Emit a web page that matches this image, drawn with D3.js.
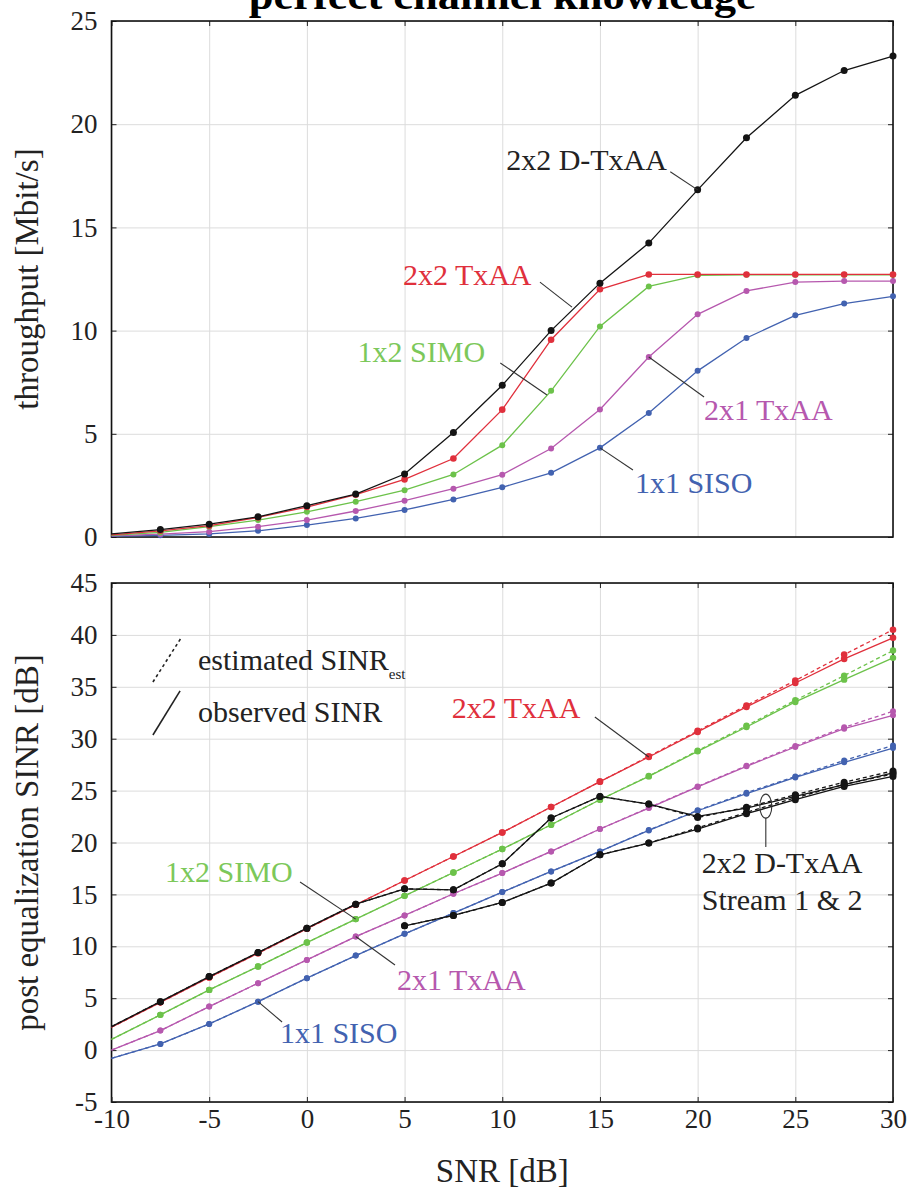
<!DOCTYPE html>
<html>
<head>
<meta charset="utf-8">
<script src="https://cdn.jsdelivr.net/npm/d3@7"></script>
<style>
  body { margin: 0; background: #fff; }
  svg { display: block; font-family: "Liberation Serif", serif; }
  .grid line { stroke: #dcdcdc; stroke-width: 1; }
  .grid path { display: none; }
  .axis path { display: none; }
  .axis line { stroke: #222; stroke-width: 1; }
  .axis text { font-size: 27px; fill: #222; font-family: "Liberation Serif", serif; }
</style>
</head>
<body>
<svg id="chart" width="910" height="1193"></svg>
<script>
// SNR points [dB]
const snr = [-10, -7.5, -5, -2.5, 0, 2.5, 5, 7.5, 10, 12.5, 15, 17.5, 20, 22.5, 25, 27.5, 30];
const xTicks = [-10, -5, 0, 5, 10, 15, 20, 25, 30];
const yTicksTop = [0, 5, 10, 15, 20, 25];
const yTicksBot = [-5, 0, 5, 10, 15, 20, 25, 30, 35, 40, 45];

// throughput [Mbit/s]
const tputDTxAA = [0.15, 0.36, 0.62, 0.98, 1.52, 2.08, 3.05, 5.06, 7.35, 10.0, 12.3, 14.24, 16.82, 19.34, 21.4, 22.6, 23.3];
const tputTxAA = [0.1, 0.3, 0.55, 0.95, 1.45, 2.05, 2.79, 3.8, 6.17, 9.56, 12.0, 12.72, 12.72, 12.72, 12.72, 12.72, 12.72];
const tputSIMO = [0.08, 0.22, 0.5, 0.82, 1.22, 1.71, 2.27, 3.03, 4.45, 7.08, 10.2, 12.14, 12.68, 12.7, 12.7, 12.7, 12.7];
const tputTxAA21 = [0.05, 0.14, 0.26, 0.5, 0.82, 1.26, 1.76, 2.34, 3.02, 4.29, 6.18, 8.72, 10.79, 11.92, 12.35, 12.4, 12.4];
const tputSISO = [0.03, 0.08, 0.15, 0.3, 0.58, 0.9, 1.31, 1.82, 2.41, 3.11, 4.32, 6.01, 8.05, 9.64, 10.74, 11.31, 11.66];

// post equalization SINR [dB], observed and estimated
const sinrDTxAA1Obs = [2.26, 4.67, 7.08, 9.4, 11.75, 14.06, 15.54, 15.44, 17.95, 22.36, 24.44, 23.7, 22.51, 23.32, 24.44, 25.57, 26.7];
const sinrDTxAA1Est = [2.26, 4.67, 7.08, 9.4, 11.75, 14.06, 15.54, 15.44, 17.95, 22.36, 24.44, 23.7, 22.4, 23.4, 24.6, 25.8, 26.9];
const sinrDTxAA2Obs = [null, null, null, null, null, null, 11.97, 12.97, 14.22, 16.09, 18.82, 19.95, 21.3, 22.77, 24.12, 25.4, 26.37];
const sinrDTxAA2Est = [null, null, null, null, null, null, 11.97, 12.97, 14.22, 16.09, 18.82, 19.95, 21.4, 22.9, 24.3, 25.6, 26.6];
const sinrTxAAObs = [2.2, 4.6, 7.0, 9.33, 11.7, 14.0, 16.34, 18.65, 20.97, 23.42, 25.86, 28.24, 30.65, 33.06, 35.37, 37.69, 39.72];
const sinrTxAAEst = [2.2, 4.6, 7.0, 9.33, 11.7, 14.0, 16.34, 18.65, 20.97, 23.42, 25.86, 28.3, 30.75, 33.2, 35.6, 38.1, 40.5];
const sinrSIMOObs = [1.04, 3.39, 5.8, 8.05, 10.36, 12.62, 14.86, 17.11, 19.37, 21.71, 24.12, 26.37, 28.78, 31.13, 33.54, 35.69, 37.79];
const sinrSIMOEst = [1.04, 3.39, 5.8, 8.05, 10.36, 12.62, 14.86, 17.11, 19.37, 21.71, 24.12, 26.4, 28.85, 31.25, 33.7, 36.08, 38.49];
const sinrTxAA21Obs = [0, 1.88, 4.19, 6.45, 8.69, 10.94, 12.97, 15.06, 17.05, 19.14, 21.3, 23.32, 25.35, 27.34, 29.2, 30.97, 32.25];
const sinrTxAA21Est = [0, 1.88, 4.19, 6.45, 8.69, 10.94, 12.97, 15.06, 17.05, 19.14, 21.3, 23.35, 25.4, 27.4, 29.3, 31.1, 32.64];
const sinrSISOObs = [-0.79, 0.59, 2.52, 4.67, 6.93, 9.11, 11.2, 13.2, 15.22, 17.21, 19.14, 21.16, 23.06, 24.7, 26.27, 27.72, 29.1];
const sinrSISOEst = [-0.79, 0.59, 2.52, 4.67, 6.93, 9.11, 11.2, 13.2, 15.22, 17.21, 19.14, 21.2, 23.1, 24.8, 26.35, 27.9, 29.35];

const colors = {
    dtxaa: '#141414',
    txaa: '#e0303c',
    simo: '#6cc24a',
    txaa21: '#b658ae',
    siso: '#4262b0'
};

const svg = d3.select('#chart');
const left = 111.5, right = 893;

const xScale = d3.scaleLinear().domain([-10, 30]).range([left, right]);
const yTop = d3.scaleLinear().domain([0, 25]).range([537, 21]);
const yBot = d3.scaleLinear().domain([-5, 45]).range([1102, 583]);

function toPoints(values) {
    return snr.map((x, i) => ({x: x, y: values[i]})).filter(d => d.y !== null);
}

function drawFrame(yScale, yTicks) {
    const [y0, y1] = yScale.range();
    // grid
    svg.append('g')
        .classed('grid', true)
        .attr('transform', `translate(0, ${y0})`)
        .call(d3.axisBottom(xScale).tickValues(xTicks).tickSize(-(y0 - y1)).tickFormat(''));
    svg.append('g')
        .classed('grid', true)
        .attr('transform', `translate(${left}, 0)`)
        .call(d3.axisLeft(yScale).tickValues(yTicks).tickSize(-(right - left)).tickFormat(''));

    // inner ticks on all four sides
    svg.append('g')
        .classed('axis', true)
        .attr('transform', `translate(${left}, 0)`)
        .call(d3.axisLeft(yScale).tickValues(yTicks).tickSize(-5).tickPadding(14).tickFormat(d => String(d)));
    svg.append('g')
        .classed('axis', true)
        .attr('transform', `translate(${right}, 0)`)
        .call(d3.axisRight(yScale).tickValues(yTicks).tickSize(-5).tickFormat(''));
    svg.append('g')
        .classed('axis', true)
        .attr('transform', `translate(0, ${y1})`)
        .call(d3.axisTop(xScale).tickValues(xTicks).tickSize(-5).tickFormat(''));

    svg.append('rect')
        .attr('x', left)
        .attr('y', y1)
        .attr('width', right - left)
        .attr('height', y0 - y1)
        .attr('fill', 'none')
        .attr('stroke', '#111')
        .attr('stroke-width', 1.6);
}

function drawSeries(yScale, values, color, dashed, r) {
    const pts = toPoints(values);
    const line = d3.line().x(d => xScale(d.x)).y(d => yScale(d.y));
    svg.append('path')
        .datum(pts)
        .attr('d', line)
        .attr('fill', 'none')
        .attr('stroke', color)
        .attr('stroke-width', 1.3)
        .attr('stroke-dasharray', dashed ? '4,3' : null);
    svg.append('g')
        .selectAll('circle')
        .data(pts.filter(d => d.x > -10))
        .enter()
        .append('circle')
            .attr('cx', d => xScale(d.x))
            .attr('cy', d => yScale(d.y))
            .attr('r', r)
            .attr('fill', color);
}

function label(yScale, x, y, text, color, anchor) {
    return svg.append('text')
        .attr('x', xScale(x))
        .attr('y', yScale(y))
        .attr('fill', color)
        .attr('font-size', 30)
        .attr('text-anchor', anchor || 'start')
        .text(text);
}

function leader(yScale, x1, y1, x2, y2) {
    svg.append('line')
        .attr('x1', xScale(x1)).attr('y1', yScale(y1))
        .attr('x2', xScale(x2)).attr('y2', yScale(y2))
        .attr('stroke', '#333')
        .attr('stroke-width', 1.1);
}

// title (cut off at the top edge, as in the original figure)
svg.append('text')
    .attr('x', (left + right) / 2)
    .attr('y', 9)
    .attr('text-anchor', 'middle')
    .attr('font-size', 40)
    .attr('font-weight', 'bold')
    .attr('textLength', 507)
    .attr('lengthAdjust', 'spacingAndGlyphs')
    .text('perfect channel knowledge');

//Top chart: throughput
drawFrame(yTop, yTicksTop);
drawSeries(yTop, tputSISO, colors.siso, false, 3);
drawSeries(yTop, tputTxAA21, colors.txaa21, false, 3);
drawSeries(yTop, tputSIMO, colors.simo, false, 3);
drawSeries(yTop, tputTxAA, colors.txaa, false, 3.3);
drawSeries(yTop, tputDTxAA, colors.dtxaa, false, 3.5);

label(yTop, 18.43, 17.78, '2x2 D-TxAA', '#222', 'end');
leader(yTop, 18.6, 17.7, 20, 16.82);
label(yTop, 11.5, 12.2, '2x2 TxAA', colors.txaa, 'end');
leader(yTop, 11.93, 12.35, 13.57, 11.14);
label(yTop, 9.12, 8.48, '1x2 SIMO', '#7cc85a', 'end');
leader(yTop, 9.9, 8.43, 12.29, 6.88);
label(yTop, 20.33, 5.67, '2x1 TxAA', colors.txaa21);
leader(yTop, 20.33, 6.78, 17.5, 8.72);
label(yTop, 16.79, 2.13, '1x1 SISO', colors.siso);
leader(yTop, 16.69, 3.25, 15, 4.32);

svg.append('text')
    .attr('transform', `translate(38, ${(yTop(0) + yTop(25)) / 2}) rotate(-90)`)
    .attr('text-anchor', 'middle')
    .attr('font-size', 33)
    .attr('fill', '#222')
    .text('throughput [Mbit/s]');

//Bottom chart: SINR
drawFrame(yBot, yTicksBot);
svg.append('g')
    .classed('axis', true)
    .attr('transform', `translate(0, ${yBot(-5)})`)
    .call(d3.axisBottom(xScale).tickValues(xTicks).tickSize(-5).tickPadding(7).tickFormat(d => String(d)));

const sinrSeries = [
    [sinrSISOEst, sinrSISOObs, colors.siso, 3],
    [sinrTxAA21Est, sinrTxAA21Obs, colors.txaa21, 3],
    [sinrSIMOEst, sinrSIMOObs, colors.simo, 3.2],
    [sinrTxAAEst, sinrTxAAObs, colors.txaa, 3.3],
    [sinrDTxAA2Est, sinrDTxAA2Obs, colors.dtxaa, 3.5],
    [sinrDTxAA1Est, sinrDTxAA1Obs, colors.dtxaa, 3.5]
];
sinrSeries.forEach(([est, obs, color, r]) => {
    drawSeries(yBot, est, color, true, r);
    drawSeries(yBot, obs, color, false, r);
});

// legend
svg.append('line')
    .attr('x1', xScale(-7.88)).attr('y1', yBot(35.46))
    .attr('x2', xScale(-6.44)).attr('y2', yBot(39.7))
    .attr('stroke', '#222').attr('stroke-width', 1.6).attr('stroke-dasharray', '3,3');
svg.append('line')
    .attr('x1', xScale(-7.88)).attr('y1', yBot(30.36))
    .attr('x2', xScale(-6.49)).attr('y2', yBot(34.6))
    .attr('stroke', '#222').attr('stroke-width', 1.6);
const est = label(yBot, -5.57, 36.6, 'estimated SINR', '#222');
est.append('tspan')
    .attr('font-size', 15)
    .attr('dy', 9)
    .text('est');
label(yBot, -5.57, 31.6, 'observed SINR', '#222');

label(yBot, 7.42, 32.0, '2x2 TxAA', colors.txaa);
leader(yBot, 14.74, 32.09, 17.5, 28.24);
label(yBot, -7.26, 16.2, '1x2 SIMO', '#7cc85a');
leader(yBot, -0.35, 16.2, 2.5, 12.62);
label(yBot, 4.61, 5.79, '2x1 TxAA', colors.txaa21);
leader(yBot, 4.51, 8.2, 2.5, 10.94);
label(yBot, -1.38, 0.68, '1x1 SISO', colors.siso);
leader(yBot, -1.27, 2.71, -2.5, 4.67);

// 2x2 D-TxAA stream marker
svg.append('ellipse')
    .attr('cx', xScale(23.49))
    .attr('cy', yBot(23.5))
    .attr('rx', 6)
    .attr('ry', 12)
    .attr('fill', 'none')
    .attr('stroke', '#333')
    .attr('stroke-width', 1.1);
leader(yBot, 23.49, 22.36, 23.49, 19.57);
label(yBot, 20.21, 17.06, '2x2 D-TxAA', '#222');
label(yBot, 20.21, 13.5, 'Stream 1 & 2', '#222');

svg.append('text')
    .attr('transform', `translate(38, ${(yBot(-5) + yBot(45)) / 2}) rotate(-90)`)
    .attr('text-anchor', 'middle')
    .attr('font-size', 33)
    .attr('fill', '#222')
    .text('post equalization SINR [dB]');

svg.append('text')
    .attr('x', (left + right) / 2)
    .attr('y', 1182)
    .attr('text-anchor', 'middle')
    .attr('font-size', 33)
    .attr('fill', '#222')
    .text('SNR [dB]');
</script>
</body>
</html>
